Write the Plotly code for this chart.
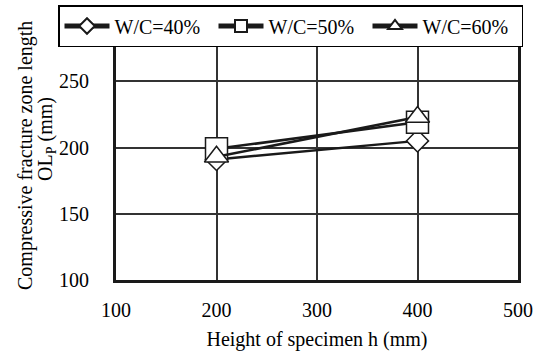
import plotly.graph_objects as go

heights = [200, 400]
series_names = ["W/C=40%", "W/C=50%", "W/C=60%"]
ol_40 = [191, 205]
ol_50 = [199, 219]
ol_60 = [193, 223]
x_ticks = [100, 200, 300, 400, 500]
y_ticks = [100, 150, 200, 250, 300]
y_title_1 = "Compressive fracture zone length"
y_title_2 = "OL<sub>P</sub> (mm)"
x_title = "Height of specimen h (mm)"

FONT = "Liberation Serif, Times New Roman, serif"
symbols = ["diamond", "square", "triangle-up"]
sizes = [17, 22, 21]
values = [ol_40, ol_50, ol_60]

# plot area in pixels
L, R, T, B = 116, 17, 15, 71
W, H = 535, 351
PW, PH = W - L - R, H - T - B

def px_x(p):
    return (p - L) / PW

def px_y(p):
    return (H - B - p) / PH

fig = go.Figure()
for name, vals, sym, sz in zip(series_names, values, symbols, sizes):
    fig.add_trace(go.Scatter(
        x=heights, y=vals, name=name, mode="lines+markers",
        line=dict(color="#1a1a1a", width=2.5),
        marker=dict(symbol=sym, size=sz, color="white",
                    line=dict(color="#1a1a1a", width=1.5)),
    ))

fig.update_layout(
    width=W, height=H,
    margin=dict(l=L, r=R, t=T, b=B, autoexpand=False),
    paper_bgcolor="white", plot_bgcolor="white",
    font=dict(family=FONT, size=20, color="black"),
    showlegend=True,
    legend=dict(
        orientation="h", xref="paper", yref="paper",
        x=px_x(58), y=px_y(5), xanchor="left", yanchor="top",
        bgcolor="white", bordercolor="black", borderwidth=1.5,
        itemsizing="constant", itemwidth=45, entrywidth=94,
        font=dict(family=FONT, size=20, color="black"),
        tracegroupgap=0, itemclick=False,
    ),
    annotations=[
        dict(text=y_title_1, textangle=-90, xref="paper", yref="paper",
             x=px_x(25), y=px_y(156), showarrow=False,
             xanchor="center", yanchor="middle",
             font=dict(family=FONT, size=20, color="black")),
        dict(text=y_title_2, textangle=-90, xref="paper", yref="paper",
             x=px_x(46), y=px_y(139), showarrow=False,
             xanchor="center", yanchor="middle",
             font=dict(family=FONT, size=20, color="black")),
    ],
)
fig.update_xaxes(
    range=[100, 500], tickvals=x_ticks, ticks="",
    showgrid=True, gridcolor="#333333", gridwidth=1.5,
    showline=True, linecolor="#1a1a1a", linewidth=3, mirror=True,
    zeroline=False, ticklabelstandoff=10,
    title=dict(text=x_title, standoff=14,
               font=dict(family=FONT, size=20)),
)
fig.update_yaxes(
    range=[100, 300], tickvals=y_ticks, ticks="",
    showgrid=True, gridcolor="#333333", gridwidth=1.5,
    showline=True, linecolor="#1a1a1a", linewidth=3, mirror=True,
    zeroline=False, ticklabelstandoff=20,
)

fig.write_html("out.html")
